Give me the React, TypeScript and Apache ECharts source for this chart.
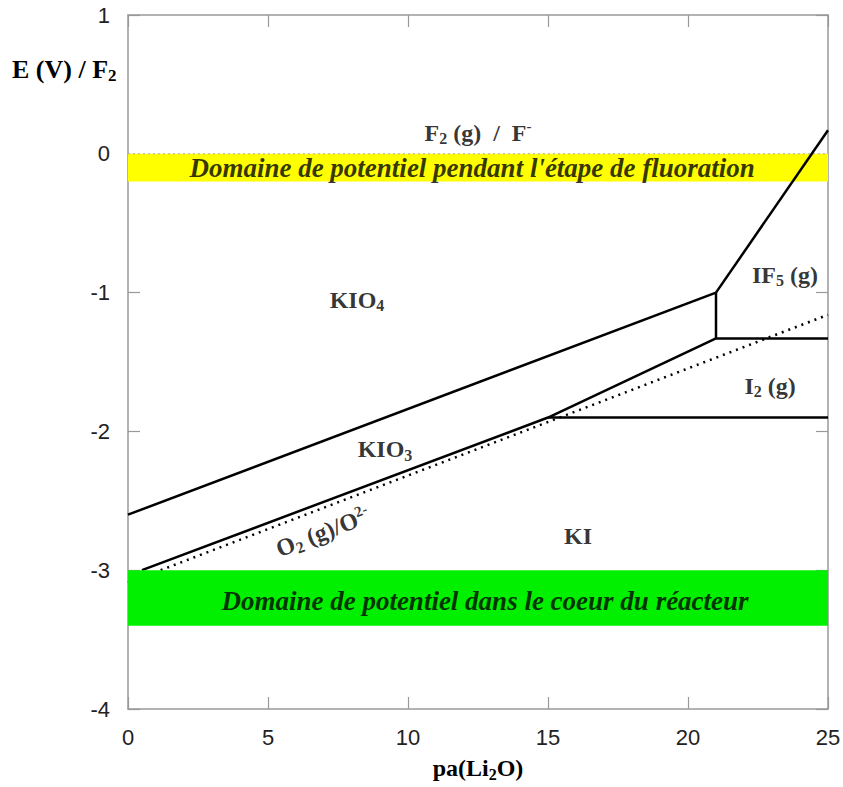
import React, { useEffect, useRef } from "react";
import * as echarts from "echarts";

// Boundary lines (x = pa(Li2O), y = E (V) / F2)
const kio4Kio3Line = [[0, -2.6], [21, -1.0]];
const if5UpperLine = [[21, -1.0], [25, 0.17]];
const vertical21Line = [[21, -1.0], [21, -1.33]];
const if5I2Line = [[21, -1.33], [25, -1.33]];
const kio3KiLine = [[0.5, -3.0], [15, -1.9], [21, -1.33]];
const i2KiLine = [[15, -1.9], [25, -1.9]];
const o2Line = [[0, -3.09], [25, -1.16]];
const f2Line = [[0, 0], [25, 0]];

// Potential bands [top, bottom]
const fluorationBand = [0, -0.2];
const reactorBand = [-3.0, -3.4];

// Axis ranges
const xRange = [0, 25];
const yRange = [-4, 1];

// Region labels: [x, y, rich text, rotate]
const regionLabels: [number, number, string, number][] = [
  [12.5, 0.15, "{b|F}{s|2}{b| (g)  /  F}{p|-}", 0],
  [8.18, -1.05, "{b|KIO}{s|4}", 0],
  [9.18, -2.13, "{b|KIO}{s|3}", 0],
  [23.46, -0.87, "{b|IF}{s|5}{b| (g)}", 0],
  [22.93, -1.67, "{b|I}{s|2}{b| (g)}", 0],
  [6.96, -2.725, "{b|O}{s|2}{b| (g)/O}{p|2-}", 21],
  [16.07, -2.75, "{b|KI}", 0],
];
const bandLabels: [number, number, string][] = [
  [12.29, -0.1, "Domaine de potentiel pendant l'étape de fluoration"],
  [12.75, -3.22, "Domaine de potentiel dans le coeur du réacteur"],
];

const SERIF = "'Liberation Serif', 'Times New Roman', serif";
const SANS = "'Liberation Sans', Arial, sans-serif";
const rich = {
  b: { fontFamily: SERIF, fontWeight: "bold", fontSize: 24, lineHeight: 28, color: "#000" },
  s: { fontFamily: SERIF, fontWeight: "bold", fontSize: 16, lineHeight: 12, verticalAlign: "bottom", color: "#000" },
  p: { fontFamily: SERIF, fontWeight: "bold", fontSize: 15, lineHeight: 13, verticalAlign: "top", color: "#000" },
};

function lineSeries(data: number[][], dotted = false) {
  return {
    type: "line",
    data,
    symbol: "none",
    z: 3,
    silent: true,
    lineStyle: {
      color: "#000",
      width: 2.5,
      type: dotted ? [2, 5] : "solid",
    },
  };
}

export default function App() {
  const ref = useRef<HTMLDivElement>(null);
  useEffect(() => {
    if (!ref.current) return;
    const chart = echarts.init(ref.current, null, { renderer: "svg" });
    const axisStyle = { onZero: false, lineStyle: { color: "#999", width: 1.5 } };
    const tickStyle = { show: true, inside: true, length: 12, lineStyle: { color: "#999", width: 1.2 } };
    const labelStyle = { color: "#222", fontFamily: SANS, fontSize: 22 };
    chart.setOption({
      animation: false,
      backgroundColor: "#fff",
      grid: { left: 128, right: 15, top: 15, bottom: 78, outerBoundsMode: "none", containLabel: false },
      xAxis: [
        {
          type: "value",
          min: xRange[0],
          max: xRange[1],
          interval: 5,
          axisLine: axisStyle,
          axisTick: tickStyle,
          splitLine: { show: false },
          axisLabel: { ...labelStyle, margin: 17 },
          name: "{b|pa(Li}{s|2}{b|O)}",
          nameLocation: "middle",
          nameGap: 45,
          nameTextStyle: { rich },
        },
        {
          type: "value",
          position: "top",
          min: xRange[0],
          max: xRange[1],
          interval: 5,
          axisLine: axisStyle,
          axisTick: tickStyle,
          splitLine: { show: false },
          axisLabel: { show: false },
        },
      ],
      yAxis: [
        {
          type: "value",
          min: yRange[0],
          max: yRange[1],
          interval: 1,
          axisLine: axisStyle,
          axisTick: tickStyle,
          splitLine: { show: false },
          axisLabel: { ...labelStyle, margin: 18 },
        },
        {
          type: "value",
          position: "right",
          min: yRange[0],
          max: yRange[1],
          interval: 1,
          axisLine: axisStyle,
          axisTick: tickStyle,
          splitLine: { show: false },
          axisLabel: { show: false },
        },
      ],
      graphic: [
        {
          type: "text",
          left: 12,
          top: 56,
          style: {
            text: "{b|E (V) / F}{s|2}",
            rich: {
              b: { ...rich.b, fontSize: 26, lineHeight: 30 },
              s: { ...rich.s, fontSize: 17, lineHeight: 13 },
            },
          },
        },
      ],
      series: [
        {
          type: "line",
          data: [],
          z: 1,
          silent: true,
          markArea: {
            silent: true,
            itemStyle: { color: "#ffff00" },
            data: [[{ yAxis: fluorationBand[0] }, { yAxis: fluorationBand[1] }]],
          },
        },
        {
          type: "line",
          data: f2Line,
          symbol: "none",
          z: 2,
          silent: true,
          lineStyle: { color: "#aaa", width: 1, type: [2, 3] },
        },
        lineSeries(o2Line, true),
        {
          type: "line",
          data: [],
          z: 4,
          silent: true,
          markArea: {
            silent: true,
            z: 4,
            itemStyle: { color: "#00f000" },
            data: [[{ yAxis: reactorBand[0] }, { yAxis: reactorBand[1] }]],
          },
        },
        lineSeries(kio4Kio3Line),
        lineSeries(if5UpperLine),
        lineSeries(vertical21Line),
        lineSeries(if5I2Line),
        lineSeries(kio3KiLine),
        lineSeries(i2KiLine),
        {
          type: "scatter",
          z: 6,
          symbolSize: 0,
          silent: true,
          data: regionLabels.map(([x, y, t, r]) => ({
            value: [x, y],
            label: {
              show: true,
              position: "inside",
              formatter: t,
              rotate: r,
              rich,
            },
          })),
        },
        {
          type: "scatter",
          z: 6,
          symbolSize: 0,
          silent: true,
          data: bandLabels.map(([x, y, t]) => ({
            value: [x, y],
            label: {
              show: true,
              position: "inside",
              formatter: t,
              fontFamily: SERIF,
              fontWeight: "bold",
              fontStyle: "italic",
              fontSize: 27,
              color: "#000",
            },
          })),
        },
      ],
    });
    return () => chart.dispose();
  }, []);
  return (
    <div
      ref={ref}
      style={{ position: "absolute", left: 0, top: 0, width: 843, height: 787 }}
    />
  );
}
